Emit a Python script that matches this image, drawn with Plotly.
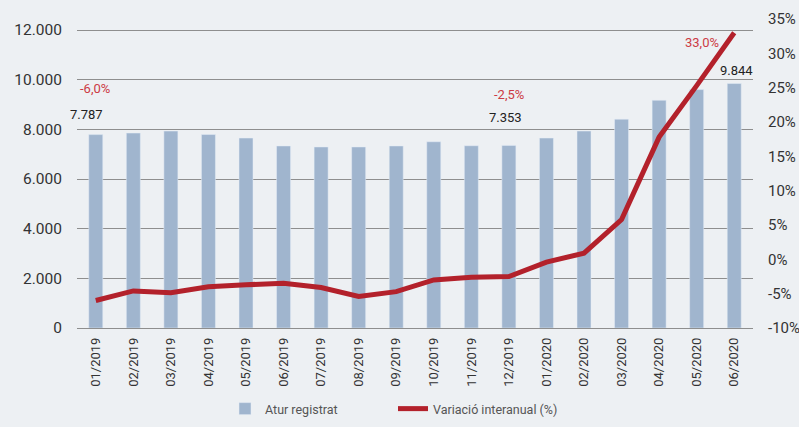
import plotly.graph_objects as go

months = ["01/2019", "02/2019", "03/2019", "04/2019", "05/2019", "06/2019",
          "07/2019", "08/2019", "09/2019", "10/2019", "11/2019", "12/2019",
          "01/2020", "02/2020", "03/2020", "04/2020", "05/2020", "06/2020"]
atur = [7787, 7850, 7930, 7790, 7650, 7330, 7290, 7290, 7330, 7500, 7340, 7353,
        7650, 7930, 8410, 9170, 9600, 9844]
variacio = [-6.0, -4.6, -4.85, -4.0, -3.7, -3.5, -4.1, -5.4, -4.7, -3.0, -2.6, -2.5,
            -0.4, 0.9, 5.8, 17.8, 25.3, 33.0]
left_ticks = [0, 2000, 4000, 6000, 8000, 10000, 12000]
left_labels = ["0", "2.000", "4.000", "6.000", "8.000", "10.000", "12.000"]
right_ticks = [-10, -5, 0, 5, 10, 15, 20, 25, 30, 35]
right_labels = [f"{v}%" for v in right_ticks]

BG = "#edf0f3"
BAR = "#a0b5ce"
LINE = "#b3212b"
RED_TXT = "#cc3b44"
FONT = "Roboto"

fig = go.Figure()
fig.add_trace(go.Bar(x=months, y=atur, name="Atur registrat", marker_color=BAR,
                     yaxis="y", legend="legend"))
fig.add_trace(go.Scatter(x=months, y=variacio, name="Variació interanual (%)",
                         mode="lines", line=dict(color=LINE, width=5),
                         yaxis="y2", legend="legend2"))

def ann(x, y, text, yref, xshift, yshift, color):
    fig.add_annotation(x=x, y=y, xref="x", yref=yref, text=text, showarrow=False,
                       xshift=xshift, yshift=yshift, yanchor="middle",
                       font=dict(family=FONT, size=13, color=color))

ann(months[0], atur[0], "7.787", "y", -9, 20, "#222222")
ann(months[11], atur[11], "7.353", "y", -3, 28, "#222222")
ann(months[17], atur[17], "9.844", "y", 2, 13, "#222222")
ann(months[0], variacio[0], "-6,0%", "y2", -1, 212, RED_TXT)
ann(months[11], variacio[11], "-2,5%", "y2", 0, 182, RED_TXT)
ann(months[17], variacio[17], "33,0%", "y2", -32, -10, RED_TXT)

legend_common = dict(orientation="h", xanchor="left",
                     xref="container", yref="container",
                     y=1 - 409 / 427, yanchor="middle",
                     font=dict(family=FONT, size=12.5, color="#555555"),
                     bgcolor="rgba(0,0,0,0)")

fig.update_layout(
    width=799, height=427, autosize=False,
    paper_bgcolor=BG, plot_bgcolor=BG,
    margin=dict(l=77, r=46, t=19, b=99, autoexpand=False),
    font=dict(family=FONT, size=15, color="#333333"),
    bargap=0.627,
    showlegend=True,
    legend=dict(x=225 / 799, **legend_common),
    legend2=dict(x=393 / 799, **legend_common),
    xaxis=dict(type="category", range=[-0.5, 17.5], showgrid=False, showline=False,
               zeroline=False, tickangle=-90, tickfont=dict(size=13, color="#333333"),
               ticks="", ticklabelstandoff=6, automargin=False),
    yaxis=dict(range=[0, 12443], tickvals=left_ticks, ticktext=left_labels,
               showgrid=True, gridcolor="#8e8e8e", gridwidth=1.3,
               zeroline=True, zerolinecolor="#8e8e8e", zerolinewidth=1.3,
               showline=False, ticks="", ticklabelstandoff=14, automargin=False,
               tickfont=dict(size=15.5, color="#333333")),
    yaxis2=dict(range=[-10, 35], tickvals=right_ticks, ticktext=right_labels,
                overlaying="y", side="right", showgrid=False, zeroline=False,
                showline=False, ticks="", ticklabelstandoff=14, automargin=False,
                tickfont=dict(size=15, color="#333333")),
)

fig.write_html("out.html", config={"displayModeBar": False},
               post_script="document.body.style.margin='0';document.body.style.padding='0';")
